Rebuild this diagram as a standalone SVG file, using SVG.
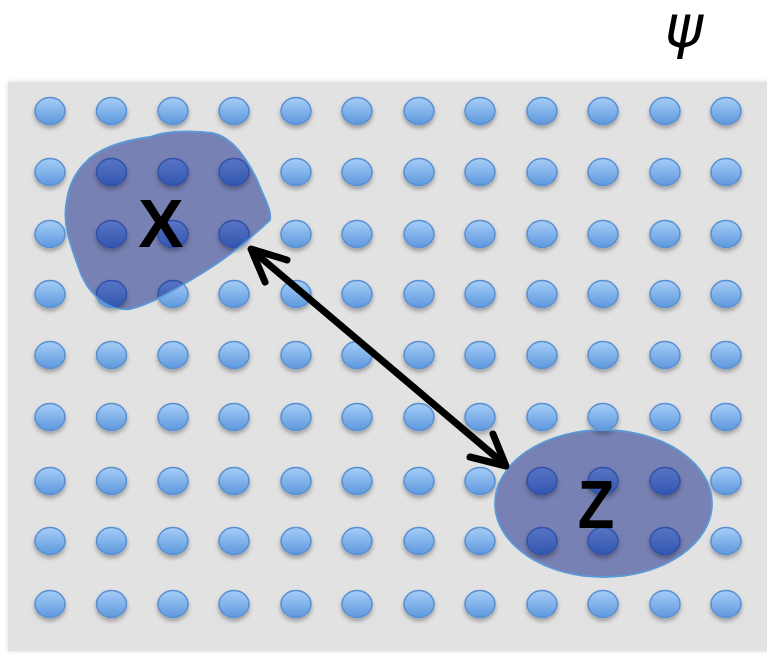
<svg xmlns="http://www.w3.org/2000/svg" width="767" height="654" viewBox="0 0 767 654">
<defs>
<linearGradient id="dot" x1="0" y1="0" x2="0" y2="1">
<stop offset="0" stop-color="#a6cdf7"/>
<stop offset="1" stop-color="#5d98dd"/>
</linearGradient>
<filter id="sh" x="-30%" y="-30%" width="160%" height="180%">
<feDropShadow dx="0" dy="3" stdDeviation="2" flood-color="#000" flood-opacity="0.3"/>
</filter>
<filter id="psh" x="-5%" y="-5%" width="110%" height="110%">
<feDropShadow dx="0" dy="0" stdDeviation="2" flood-color="#000" flood-opacity="0.15"/>
</filter>
<ellipse id="d" rx="15" ry="13.5"/>
</defs>
<style>
.dots use{fill:url(#dot);stroke:#5a8fd2;stroke-width:1.5;filter:url(#sh)}
.region{fill:#8791cb;mix-blend-mode:multiply}
.edge{fill:none;stroke:#5a9ad8;stroke-width:1.8}
.lbl{font-family:"Liberation Sans",Arial,sans-serif;font-weight:bold;font-size:68px;fill:#000;text-anchor:middle}
.arr{fill:none;stroke:#000;stroke-width:7;stroke-linecap:round;stroke-linejoin:round}
</style>
<rect x="0" y="0" width="767" height="654" fill="#fff"/>
<rect x="8" y="82" width="765" height="569" fill="#e2e2e2" filter="url(#psh)"/>
<g class="dots" id="grid">
<use href="#d" x="50" y="111"/><use href="#d" x="111.5" y="111"/><use href="#d" x="173" y="111"/><use href="#d" x="234" y="111"/><use href="#d" x="296" y="111"/><use href="#d" x="357" y="111"/><use href="#d" x="419" y="111"/><use href="#d" x="480" y="111"/><use href="#d" x="542" y="111"/><use href="#d" x="603" y="111"/><use href="#d" x="665" y="111"/><use href="#d" x="726" y="111"/>
<use href="#d" x="50" y="172"/><use href="#d" x="111.5" y="172"/><use href="#d" x="173" y="172"/><use href="#d" x="234" y="172"/><use href="#d" x="296" y="172"/><use href="#d" x="357" y="172"/><use href="#d" x="419" y="172"/><use href="#d" x="480" y="172"/><use href="#d" x="542" y="172"/><use href="#d" x="603" y="172"/><use href="#d" x="665" y="172"/><use href="#d" x="726" y="172"/>
<use href="#d" x="50" y="234"/><use href="#d" x="111.5" y="234"/><use href="#d" x="173" y="234"/><use href="#d" x="234" y="234"/><use href="#d" x="296" y="234"/><use href="#d" x="357" y="234"/><use href="#d" x="419" y="234"/><use href="#d" x="480" y="234"/><use href="#d" x="542" y="234"/><use href="#d" x="603" y="234"/><use href="#d" x="665" y="234"/><use href="#d" x="726" y="234"/>
<use href="#d" x="50" y="294"/><use href="#d" x="111.5" y="294"/><use href="#d" x="173" y="294"/><use href="#d" x="234" y="294"/><use href="#d" x="296" y="294"/><use href="#d" x="357" y="294"/><use href="#d" x="419" y="294"/><use href="#d" x="480" y="294"/><use href="#d" x="542" y="294"/><use href="#d" x="603" y="294"/><use href="#d" x="665" y="294"/><use href="#d" x="726" y="294"/>
<use href="#d" x="50" y="355"/><use href="#d" x="111.5" y="355"/><use href="#d" x="173" y="355"/><use href="#d" x="234" y="355"/><use href="#d" x="296" y="355"/><use href="#d" x="357" y="355"/><use href="#d" x="419" y="355"/><use href="#d" x="480" y="355"/><use href="#d" x="542" y="355"/><use href="#d" x="603" y="355"/><use href="#d" x="665" y="355"/><use href="#d" x="726" y="355"/>
<use href="#d" x="50" y="417"/><use href="#d" x="111.5" y="417"/><use href="#d" x="173" y="417"/><use href="#d" x="234" y="417"/><use href="#d" x="296" y="417"/><use href="#d" x="357" y="417"/><use href="#d" x="419" y="417"/><use href="#d" x="480" y="417"/><use href="#d" x="542" y="417"/><use href="#d" x="603" y="417"/><use href="#d" x="665" y="417"/><use href="#d" x="726" y="417"/>
<use href="#d" x="50" y="481"/><use href="#d" x="111.5" y="481"/><use href="#d" x="173" y="481"/><use href="#d" x="234" y="481"/><use href="#d" x="296" y="481"/><use href="#d" x="357" y="481"/><use href="#d" x="419" y="481"/><use href="#d" x="480" y="481"/><use href="#d" x="542" y="481"/><use href="#d" x="603" y="481"/><use href="#d" x="665" y="481"/><use href="#d" x="726" y="481"/>
<use href="#d" x="50" y="541"/><use href="#d" x="111.5" y="541"/><use href="#d" x="173" y="541"/><use href="#d" x="234" y="541"/><use href="#d" x="296" y="541"/><use href="#d" x="357" y="541"/><use href="#d" x="419" y="541"/><use href="#d" x="480" y="541"/><use href="#d" x="542" y="541"/><use href="#d" x="603" y="541"/><use href="#d" x="665" y="541"/><use href="#d" x="726" y="541"/>
<use href="#d" x="50" y="604"/><use href="#d" x="111.5" y="604"/><use href="#d" x="173" y="604"/><use href="#d" x="234" y="604"/><use href="#d" x="296" y="604"/><use href="#d" x="357" y="604"/><use href="#d" x="419" y="604"/><use href="#d" x="480" y="604"/><use href="#d" x="542" y="604"/><use href="#d" x="603" y="604"/><use href="#d" x="665" y="604"/><use href="#d" x="726" y="604"/>
</g>
<g id="node-x">
<path class="region" d="M 85,163 C 100,146 128,140 150,137 C 165,131 190,130 212,133 C 232,136 248,160 258,182 C 264,198 272,210 270,220 C 255,234 236,252 204,272 C 178,288 152,304 130,309 C 106,312 86,292 78,266 C 71,246 63,226 66,206 C 68,186 75,173 85,163 Z"/>
<path class="edge" d="M 85,163 C 100,146 128,140 150,137 C 165,131 190,130 212,133 C 232,136 248,160 258,182 C 264,198 272,210 270,220 C 255,234 236,252 204,272 C 178,288 152,304 130,309 C 106,312 86,292 78,266 C 71,246 63,226 66,206 C 68,186 75,173 85,163 Z"/>
<text class="lbl" x="161" y="247">X</text>
</g>
<g id="node-z">
<ellipse class="region" cx="603.5" cy="503.5" rx="108.5" ry="73.5"/>
<ellipse class="edge" cx="603.5" cy="503.5" rx="108.5" ry="73.5"/>
<text class="lbl" x="0" y="0" transform="translate(596 528) scale(0.88 1)">Z</text>
</g>
<g id="connectors">
<path class="arr" d="M 254,252 L 503,463"/>
<path class="arr" d="M 287,260 L 251,249 L 265,282"/>
<path class="arr" d="M 470,457 L 506,466 L 493,434"/>
</g>
<text id="psi" x="684" y="47" font-family="'DejaVu Sans',sans-serif" font-style="italic" font-size="58" text-anchor="middle" fill="#000">ψ</text>
</svg>
